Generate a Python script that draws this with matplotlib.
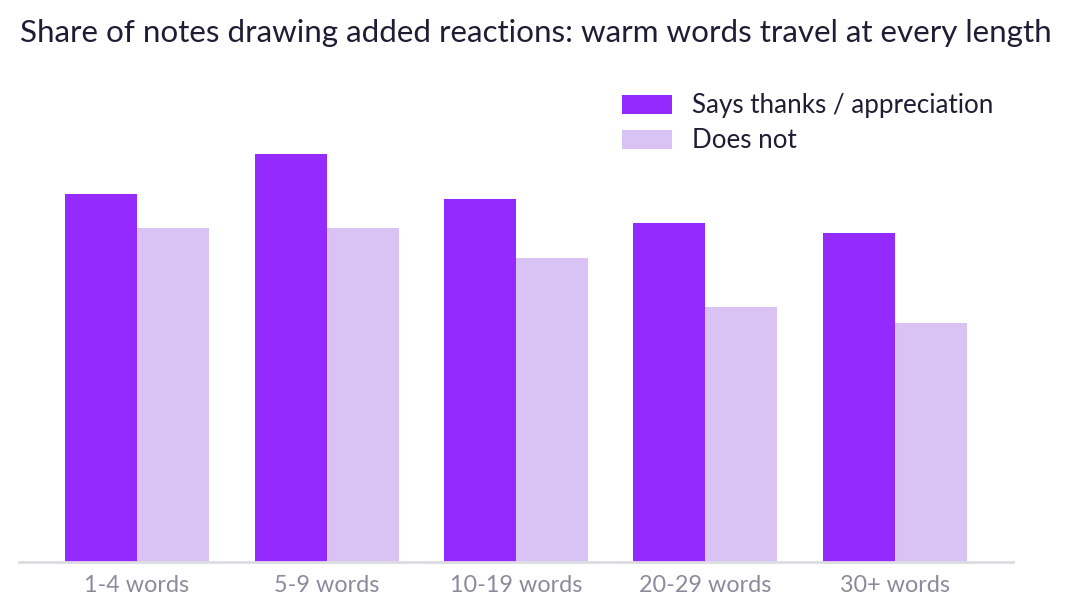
import matplotlib
matplotlib.use("Agg")
import matplotlib.pyplot as plt
import numpy as np

plt.rcParams['font.family'] = ['Lato', 'DejaVu Sans']

categories = ['1-4 words', '5-9 words', '10-19 words', '20-29 words', '30+ words']
thanks = [36.7, 40.7, 36.2, 33.8, 32.8]
does_not = [33.3, 33.3, 30.3, 25.4, 23.9]
series_labels = ['Says thanks / appreciation', 'Does not']

purple = '#952AFF'
lilac = '#D9C3F5'

fig = plt.figure(figsize=(10.75, 6.16), dpi=100)
ax = fig.add_axes([19 / 1075, 1 - 562 / 616, (1013 - 19) / 1075, 483 / 616])

x = np.arange(len(categories))
w = 0.38
b1 = ax.bar(x - w / 2, thanks, w, color=purple, label=series_labels[0])
b2 = ax.bar(x + w / 2, does_not, w, color=lilac, label=series_labels[1])

ax.set_xlim(-0.623, len(categories) - 1 + 0.623)
ax.set_ylim(0, 48.2)
ax.set_xticks(x)
ax.set_xticklabels(categories, fontsize=16.8, color='#8c8b9c')
ax.tick_params(axis='x', length=0, pad=9)
ax.set_yticks([])
for s in ['top', 'right', 'left']:
    ax.spines[s].set_visible(False)
ax.spines['bottom'].set_color('#dcdce2')
ax.spines['bottom'].set_linewidth(2)

fig.text(20 / 1075, 1 - 33 / 616, 'Share of notes drawing added reactions: warm words travel at every length',
         fontsize=22.6, color='#1e1d33', va='center', ha='left')

fig.legend(handles=[b1, b2], loc='upper left', bbox_to_anchor=(599 / 1075, 1 - 70 / 616),
           frameon=False, fontsize=18.7, handlelength=1.92, handleheight=0.77,
           handletextpad=0.77, labelspacing=0.38, labelcolor='#1e1d33')

fig.savefig('out.png', dpi=100)
